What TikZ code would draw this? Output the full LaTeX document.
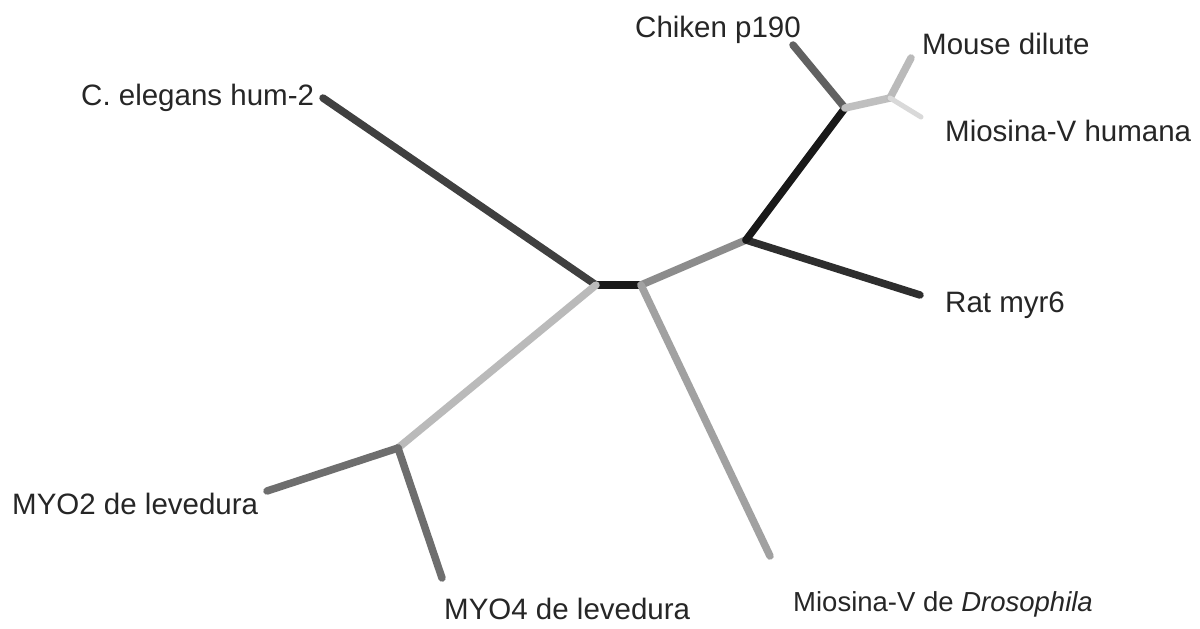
\documentclass[tikz,border=0pt]{standalone}
\usepackage{fontspec}
\setmainfont{Liberation Sans}
\begin{document}
\begin{tikzpicture}[x=1pt,y=-1pt,
  lbl/.style={anchor=base west,inner sep=0pt,text=black!85,font=\fontsize{29.5}{33}\selectfont},
  br/.style={line width=7.5pt,line cap=round,line join=round}]
\useasboundingbox[fill=white] (0,0) rectangle (1200,629);
% junctions and leaf ends
\coordinate (A) at (596,285);
\coordinate (B) at (641,285);
\coordinate (C) at (746,240);
\coordinate (D) at (845,108);
\coordinate (E) at (890,98);
\coordinate (F) at (398,448);
\coordinate (cel) at (323,98);
\coordinate (rat) at (920,295);
\coordinate (chi) at (793,45);
\coordinate (mou) at (911,58);
\coordinate (hum) at (921,117);
\coordinate (dro) at (770,556);
\coordinate (my2) at (267,491);
\coordinate (my4) at (442,578);
% branches
\draw[br,draw=black!75] (A) -- (cel);
\draw[br,draw=black!90] (A) -- (B);
\draw[br,draw=black!45] (B) -- (C);
\draw[br,draw=black!82] (C) -- (rat);
\draw[br,draw=black!90] (C) -- (D);
\draw[br,draw=black!62] (D) -- (chi);
\draw[br,draw=black!25] (D) -- (E);
\draw[br,draw=black!27] (E) -- (mou);
\draw[br,draw=black!15,line width=5pt] (E) -- (hum);
\draw[br,draw=black!37] (B) -- (dro);
\draw[br,draw=black!27] (A) -- (F);
\draw[br,draw=black!57] (F) -- (my2);
\draw[br,draw=black!57] (F) -- (my4);
% labels
\node[lbl] (tchi) at (635,37) {Chiken p190};
\node[lbl] (tmou) at (922,54) {Mouse dilute};
\node[lbl] (thum) at (945,141) {Miosina-V humana};
\node[lbl] (tcel) at (81,105) {C. elegans hum-2};
\node[lbl] (trat) at (945,312) {Rat myr6};
\node[lbl] (tmy2) at (12,514) {MYO2 de levedura};
\node[lbl] (tmy4) at (444,619) {MYO4 de levedura};
\node[lbl,font=\fontsize{27.5}{31}\selectfont] (tdro) at (793,611) {Miosina-V de \textit{Drosophila}};
\end{tikzpicture}
\end{document}
